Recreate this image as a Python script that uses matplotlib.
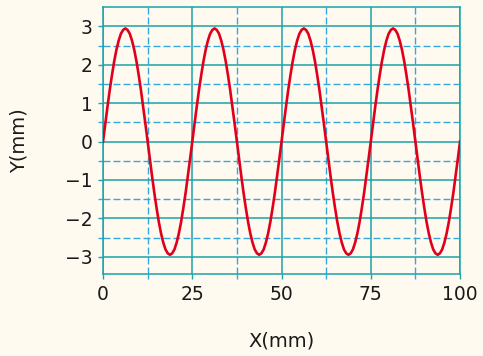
import matplotlib
matplotlib.use("Agg")
import matplotlib.pyplot as plt
from matplotlib.ticker import MultipleLocator

# displacement every 0.625 mm
x_step = 0.625
y_values = [
    0, 0.46, 0.91, 1.34, 1.73, 2.09, 2.39, 2.63, 2.81, 2.91,
    2.95, 2.91, 2.81, 2.63, 2.39, 2.09, 1.73, 1.34, 0.91, 0.46,
    0, -0.46, -0.91, -1.34, -1.73, -2.09, -2.39, -2.63, -2.81, -2.91,
    -2.95, -2.91, -2.81, -2.63, -2.39, -2.09, -1.73, -1.34, -0.91, -0.46,
    0, 0.46, 0.91, 1.34, 1.73, 2.09, 2.39, 2.63, 2.81, 2.91,
    2.95, 2.91, 2.81, 2.63, 2.39, 2.09, 1.73, 1.34, 0.91, 0.46,
    0, -0.46, -0.91, -1.34, -1.73, -2.09, -2.39, -2.63, -2.81, -2.91,
    -2.95, -2.91, -2.81, -2.63, -2.39, -2.09, -1.73, -1.34, -0.91, -0.46,
    0, 0.46, 0.91, 1.34, 1.73, 2.09, 2.39, 2.63, 2.81, 2.91,
    2.95, 2.91, 2.81, 2.63, 2.39, 2.09, 1.73, 1.34, 0.91, 0.46,
    0, -0.46, -0.91, -1.34, -1.73, -2.09, -2.39, -2.63, -2.81, -2.91,
    -2.95, -2.91, -2.81, -2.63, -2.39, -2.09, -1.73, -1.34, -0.91, -0.46,
    0, 0.46, 0.91, 1.34, 1.73, 2.09, 2.39, 2.63, 2.81, 2.91,
    2.95, 2.91, 2.81, 2.63, 2.39, 2.09, 1.73, 1.34, 0.91, 0.46,
    0, -0.46, -0.91, -1.34, -1.73, -2.09, -2.39, -2.63, -2.81, -2.91,
    -2.95, -2.91, -2.81, -2.63, -2.39, -2.09, -1.73, -1.34, -0.91, -0.46,
    0,
]
x_values = [i * x_step for i in range(len(y_values))]

x_ticks = [0, 25, 50, 75, 100]
y_ticks = [-3, -2, -1, 0, 1, 2, 3]
y_minor = [-2.5, -1.5, -0.5, 0.5, 1.5, 2.5]

bg = "#fffaf0"
teal = "#1aa3a8"
dash_blue = "#34a8de"
red = "#e0001b"
ink = "#1a1a1a"

plt.rcParams["font.family"] = "DejaVu Sans"

fig = plt.figure(figsize=(4.83, 3.56), dpi=100, facecolor=bg)
ax = fig.add_axes([0.2133, 0.2303, 0.7391, 0.7492])
ax.set_facecolor(bg)

ax.plot(x_values, y_values, color=red, lw=1.9, zorder=3,
        solid_joinstyle="round")

ax.set_xlim(0, 100)
ax.set_ylim(-3.45, 3.5)
ax.set_xticks(x_ticks)
ax.set_yticks(y_ticks)
ax.xaxis.set_minor_locator(MultipleLocator(12.5))
ax.set_yticks(y_minor, minor=True)

ax.grid(which="major", color=teal, lw=1.1, ls="-", zorder=1)
ax.grid(which="minor", color=dash_blue, lw=1.0, ls=(0, (5, 2.2)), zorder=1)

ax.tick_params(which="both", direction="out", length=3.6, width=1.0,
               color=teal, labelsize=13.5, labelcolor=ink, pad=4)
ax.tick_params(which="minor", color=dash_blue)

for s in ax.spines.values():
    s.set_color(teal)
    s.set_linewidth(1.1)

ax.set_xlabel("X(mm)", fontsize=14, color=ink)
ax.set_ylabel("Y(mm)", fontsize=14, color=ink)
ax.xaxis.set_label_coords(0.5, -0.215)
ax.yaxis.set_label_coords(-0.21, 0.5)

fig.savefig("out.png", dpi=100, facecolor=bg)
